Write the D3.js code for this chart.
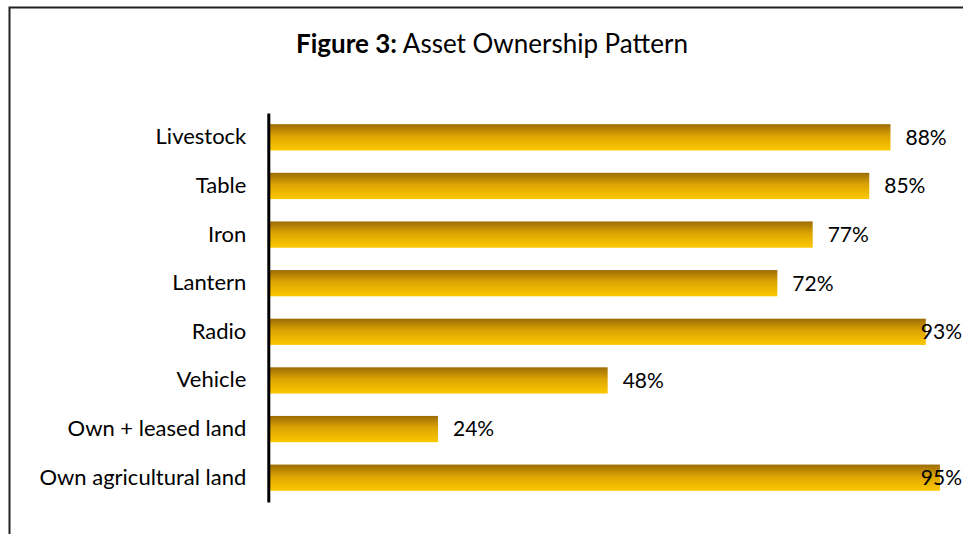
<!DOCTYPE html>
<html>
<head>
<meta charset="utf-8">
<script src="https://cdn.jsdelivr.net/npm/d3@7"></script>
<style>
  html, body { margin: 0; padding: 0; background: #fff; }
  svg { display: block; }
  text { font-family: Lato, "Open Sans", sans-serif; fill: #000; }
</style>
</head>
<body>
<svg id="chart" width="963" height="534"></svg>
<script>
// Asset ownership: share of households owning each asset
const categories = ["Livestock", "Table", "Iron", "Lantern", "Radio", "Vehicle", "Own + leased land", "Own agricultural land"];
const shares = [0.88, 0.85, 0.77, 0.72, 0.93, 0.48, 0.24, 0.95];
const valueLabels = ["88%", "85%", "77%", "72%", "93%", "48%", "24%", "95%"];

const W = 963, H = 534;
const svg = d3.select("#chart");

// outer chart frame (runs past the right and bottom edges)
svg.append("rect")
  .attr("x", 9.5).attr("y", 7.5)
  .attr("width", W + 20).attr("height", H + 20)
  .attr("fill", "none").attr("stroke", "#222").attr("stroke-width", 2);

// title
const title = svg.append("text")
  .attr("x", 492).attr("y", 53)
  .attr("text-anchor", "middle")
  .style("font-size", "26px");
title.append("tspan").style("font-weight", "bold").text("Figure 3:");
title.append("tspan").text(" Asset Ownership Pattern");

const plotLeft = 268.3, plotRight = 975.3, plotTop = 113, plotBottom = 502;
const chartRight = 962;

const x = d3.scaleLinear().domain([0, 1]).range([plotLeft, plotRight]);
const y = d3.scaleBand().domain(categories).range([plotTop, plotBottom])
  .paddingInner(0.46).paddingOuter(0.23);

// vertical gradient for the bars
const defs = svg.append("defs");
const grad = defs.append("linearGradient")
  .attr("id", "barGrad").attr("x1", 0).attr("y1", 0).attr("x2", 0).attr("y2", 1);
grad.append("stop").attr("offset", "0%").attr("stop-color", "#9c6c06");
grad.append("stop").attr("offset", "45%").attr("stop-color", "#dca402");
grad.append("stop").attr("offset", "100%").attr("stop-color", "#fdc800");

const data = categories.map((c, i) => ({ cat: c, v: shares[i], label: valueLabels[i] }));

svg.append("g").selectAll("rect")
  .data(data).join("rect")
  .attr("x", x(0))
  .attr("y", d => y(d.cat))
  .attr("width", d => x(d.v) - x(0))
  .attr("height", y.bandwidth())
  .attr("fill", "url(#barGrad)");

// category axis on the left, line only
const axis = d3.axisLeft(y).tickSize(0).tickPadding(22);
const gAxis = svg.append("g").attr("transform", `translate(${plotLeft},0)`).call(axis);
gAxis.select(".domain").attr("stroke", "#000").attr("stroke-width", 3);
gAxis.selectAll("text")
  .style("font-size", "22px")
  .style("font-family", "Lato, sans-serif")
  .attr("fill", "#000");

// value labels, kept inside the chart's right edge
const labels = svg.append("g").selectAll("text")
  .data(data).join("text")
  .attr("y", d => y(d.cat) + y.bandwidth() / 2)
  .attr("dy", "0.35em")
  .style("font-size", "21px")
  .text(d => d.label);
labels.attr("x", function(d) {
  const w = this.getComputedTextLength();
  return Math.min(x(d.v) + 15, chartRight - w);
});
</script>
</body>
</html>
